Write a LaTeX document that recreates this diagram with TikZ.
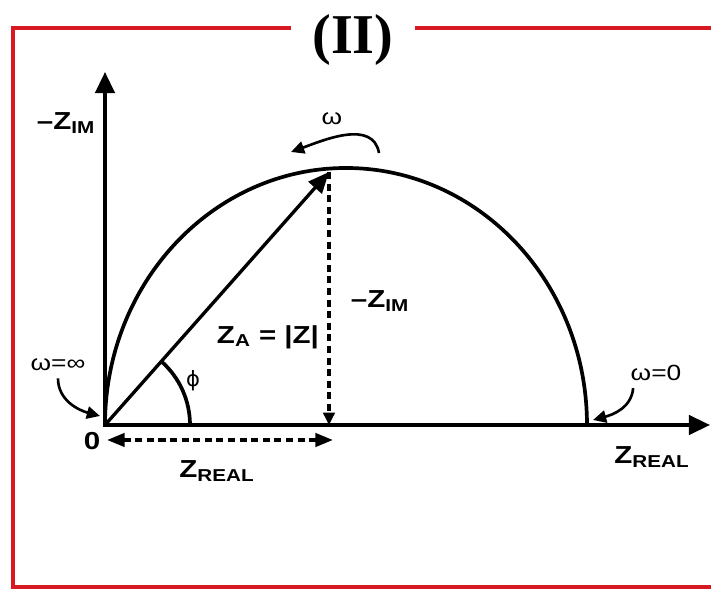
\documentclass[tikz,border=0pt]{standalone}
\usepackage{fontspec}
\setmainfont{Liberation Sans}
\newfontfamily\lblfont[FakeStretch=1.2]{Liberation Sans}
\newfontfamily\titlefont{Liberation Serif}
\newfontfamily\greekfont{DejaVu Sans}
\usetikzlibrary{arrows.meta}
\definecolor{framered}{RGB}{215,25,35}

\begin{document}
\begin{tikzpicture}[x=0.02cm, y=-0.02cm,
    axis/.style={line width=2pt},
    vec/.style={line width=1.9pt, -{Triangle[length=12pt,width=10pt]}},
    curve/.style={line width=2.1pt},
    dashline/.style={line width=2pt, dash pattern=on 4pt off 2.6pt},
    bendarrow/.style={line width=1.5pt, -{Triangle[length=7.5pt,width=7pt]}},
    lbl/.style={font=\lblfont\bfseries\fontsize{14}{16}\selectfont, inner sep=0pt},
    small/.style={font=\lblfont\fontsize{12.5}{14}\selectfont, inner sep=0pt}]

    \useasboundingbox (0,0) rectangle (711,590);

    % frame with title
    \node[font=\titlefont\bfseries\fontsize{32}{34}\selectfont, inner xsep=0.42cm, inner ysep=0pt] (title) at (353,40) {(II)};
    \draw[framered, line width=2.5pt] (title.west |- 0,28) -- (13,28) -- (13,587) -- (730,587);
    \draw[framered, line width=2.5pt] (title.east |- 0,28) -- (730,28);

    % axes
    \coordinate (O) at (105,425);
    \coordinate (ytip) at (105,72);
    \coordinate (xtip) at (710,425);
    \draw[axis, {Triangle[length=12pt,width=11pt]}-{Triangle[length=12pt,width=11pt]}] (ytip) -- (O) -- (xtip);

    % semicircle
    \draw[curve] (O) arc[start angle=180, end angle=360, x radius=241, y radius=257];

    % impedance vector and its parts
    \coordinate (A) at (329,172);
    \coordinate (Afoot) at (329,425);
    \coordinate (dl) at (107,440);
    \coordinate (dr) at (333,440);
    \draw[vec] (O) -- (A);
    \draw[dashline, -{Triangle[length=7pt,width=6.5pt]}] (A) -- (Afoot);
    \draw[dashline, {Triangle[length=10pt,width=7.5pt]}-{Triangle[length=10pt,width=7.5pt]}] (dl) -- (dr);
    \draw[curve] (190,425) arc[start angle=0, end angle=-48.5, radius=85];

    % labels
    \node[lbl] (ylab) at (66,123) {–Z\textsubscript{IM}};
    \node[lbl] (zero) at (92,441) {0};
    \node[lbl] (zreal1) at (217,471) {Z\textsubscript{REAL}};
    \node[lbl] (zreal2) at (652,457) {Z\textsubscript{REAL}};
    \node[lbl] (zim2) at (380,301) {–Z\textsubscript{IM}};
    \node[lbl] (za) at (268,337) {Z\textsubscript{A} = |Z|};
    \node[small, font=\greekfont\fontsize{12}{14}\selectfont] (phi) at (193,381) {ϕ};
    \node[small] (winf) at (58,365) {ω=∞};
    \node[small] (w0) at (656,373) {ω=0};
    \node[small] (wtop) at (332,119) {ω};

    % frequency arrows
    \coordinate (winfend) at (100,416);
    \coordinate (w0end) at (593,420);
    \coordinate (wr) at (379,153);
    \coordinate (wl) at (291,152);
    \draw[bendarrow] ([yshift=-4pt]winf.south) to[out=-90, in=165] (winfend);
    \draw[bendarrow] ([xshift=-13pt,yshift=-4pt]w0.south) to[out=-95, in=15] (w0end);
    \draw[bendarrow] (wr) to[out=100, in=20] (wl);
\end{tikzpicture}
\end{document}
